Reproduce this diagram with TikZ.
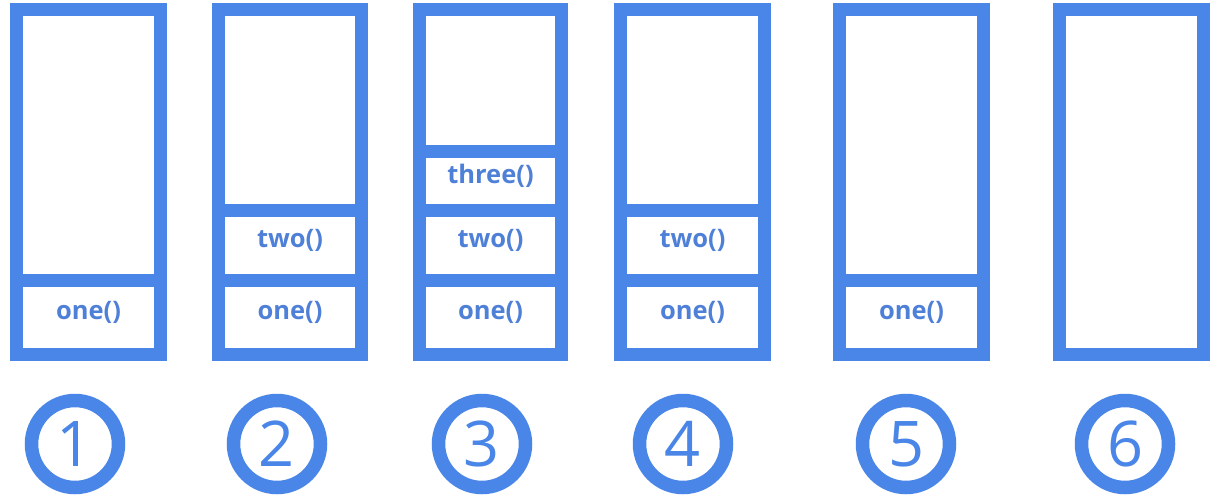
\documentclass[tikz,border=0pt]{standalone}
\usepackage{fontspec}
\setmainfont{Open Sans}
\definecolor{stackblue}{HTML}{4A86E8}
\definecolor{textblue}{HTML}{4F80D8}
\begin{document}
\begin{tikzpicture}[x=1pt,y=-1pt,
  frame/.style={draw=stackblue,line width=13pt},
  call/.style={text=textblue,font=\fontsize{25.5}{28}\selectfont\bfseries,inner sep=0pt},
  num/.style={circle,draw=stackblue,line width=13.5pt,minimum size=87pt,inner sep=0pt,
    text=stackblue,font=\fontsize{63}{70}\selectfont}]
\useasboundingbox[fill=white] (0,0) rectangle (1214,499);
% stacks
\draw[frame] (16.5,9.5) rectangle (160.5,354.5);
\draw[frame] (10,280) -- (167,280);
\node[call] (s1a) at (88.5,312) {one()};

\draw[frame] (218.5,9.5) rectangle (361.5,354.5);
\draw[frame] (212,280) -- (368,280);
\draw[frame] (212,210) -- (368,210);
\node[call] (s2a) at (290,312) {one()};
\node[call] (s2b) at (290,240) {two()};

\draw[frame] (419.5,9.5) rectangle (561.5,354.5);
\draw[frame] (413,280) -- (568,280);
\draw[frame] (413,210) -- (568,210);
\draw[frame] (413,151) -- (568,151);
\node[call] (s3a) at (490.5,312) {one()};
\node[call] (s3b) at (490.5,240) {two()};
\node[call] (s3c) at (490.5,176) {three()};

\draw[frame] (620.5,9.5) rectangle (764.5,354.5);
\draw[frame] (614,280) -- (771,280);
\draw[frame] (614,210) -- (771,210);
\node[call] (s4a) at (692.5,312) {one()};
\node[call] (s4b) at (692.5,240) {two()};

\draw[frame] (839.5,9.5) rectangle (983.5,354.5);
\draw[frame] (833,280) -- (990,280);
\node[call] (s5a) at (911.5,312) {one()};

\draw[frame] (1059.5,9.5) rectangle (1203.5,354.5);
% step numbers
\node[num] (n1) at (75,444) {1};
\node[num] (n2) at (277,444) {2};
\node[num] (n3) at (482,444) {3};
\node[num] (n4) at (683,444) {4};
\node[num] (n5) at (906,444) {5};
\node[num] (n6) at (1125,444) {6};
\end{tikzpicture}
\end{document}
